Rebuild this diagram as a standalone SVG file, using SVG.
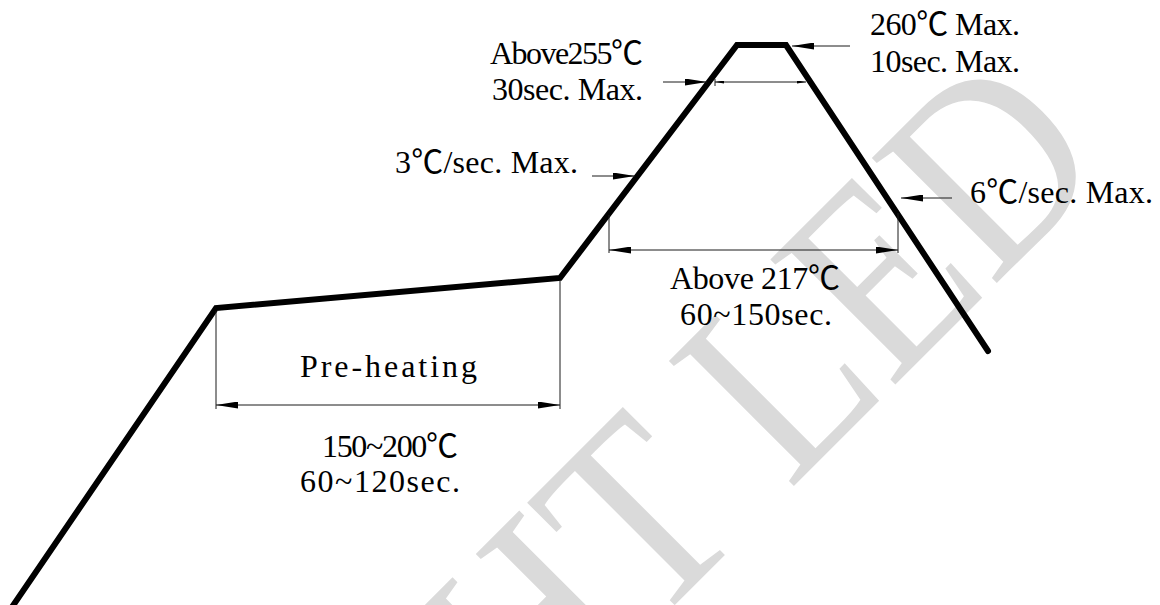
<svg xmlns="http://www.w3.org/2000/svg" width="1160" height="605" viewBox="0 0 1160 605">
<style>
  .lbl { font-family: "Liberation Serif", "Noto Sans CJK SC", serif; font-size: 32px; fill: #000; }
  .thin { stroke: #1a1a1a; stroke-width: 1; fill: none; }
  .curve { stroke: #000; stroke-width: 6; fill: none; stroke-linejoin: miter; stroke-linecap: round; }
  .wm { font-family: "Liberation Serif", serif; font-size: 270px; fill: #dadada; }
</style>
<defs>
  <marker id="ah" viewBox="0 0 22 7" refX="22" refY="3.5" markerWidth="22" markerHeight="7" markerUnits="userSpaceOnUse" orient="auto-start-reverse">
    <path d="M0,0 L22,3.5 L0,7 z" fill="#000"/>
  </marker>
  <marker id="ahs" viewBox="0 0 9 3" refX="9" refY="1.5" markerWidth="9" markerHeight="3" markerUnits="userSpaceOnUse" orient="auto-start-reverse">
    <path d="M0,0 L9,1.5 L0,3 z" fill="#000"/>
  </marker>
</defs>
<rect width="1160" height="605" fill="#fff"/>
<g id="watermark">
  <text class="wm" transform="rotate(-45) scale(0.87,1)" x="-180" y="905">HT LED</text>
</g>
<g id="profile">
  <polyline class="curve" points="10,610 216,308 560,278 737,45 786,45 988,351"/>
</g>
<g id="connectors">
  <line class="thin" x1="216" y1="311" x2="216" y2="409"/>
  <line class="thin" x1="560" y1="281" x2="560" y2="409"/>
  <line class="thin" x1="216" y1="405" x2="560" y2="405" marker-start="url(#ah)" marker-end="url(#ah)"/>
  <line class="thin" x1="609" y1="215" x2="609" y2="253"/>
  <line class="thin" x1="898" y1="213" x2="898" y2="253"/>
  <line class="thin" x1="609" y1="250" x2="898" y2="250" marker-start="url(#ah)" marker-end="url(#ah)"/>
  <line class="thin" x1="715" y1="79" x2="715" y2="86"/>
  <line class="thin" x1="715" y1="82" x2="806" y2="82" marker-start="url(#ahs)" marker-end="url(#ahs)"/>
  <line class="thin" x1="663" y1="82" x2="707" y2="82" marker-end="url(#ah)"/>
  <line class="thin" x1="592" y1="176" x2="635" y2="176" marker-end="url(#ah)"/>
  <line class="thin" x1="850" y1="46" x2="792" y2="46" marker-end="url(#ah)"/>
  <line class="thin" x1="952" y1="198" x2="901" y2="198" marker-end="url(#ah)"/>
</g>
<g id="label-peak255">
  <text class="lbl" x="490" y="64" textLength="153" lengthAdjust="spacing">Above255℃</text>
  <text class="lbl" x="492" y="100" textLength="151" lengthAdjust="spacing">30sec. Max.</text>
</g>
<g id="label-rampup">
  <text class="lbl" x="395" y="173" textLength="183" lengthAdjust="spacing">3℃/sec. Max.</text>
</g>
<g id="label-peak260">
  <text class="lbl" x="870" y="35" textLength="150" lengthAdjust="spacing">260℃ Max.</text>
  <text class="lbl" x="870" y="72" textLength="150" lengthAdjust="spacing">10sec. Max.</text>
</g>
<g id="label-rampdown">
  <text class="lbl" x="970" y="203" textLength="183" lengthAdjust="spacing">6℃/sec. Max.</text>
</g>
<g id="label-217">
  <text class="lbl" x="670" y="289" textLength="170" lengthAdjust="spacing">Above 217℃</text>
  <text class="lbl" x="680" y="325" textLength="152" lengthAdjust="spacing">60~150sec.</text>
</g>
<g id="label-preheat">
  <text class="lbl" x="300" y="377" textLength="177" lengthAdjust="spacing">Pre-heating</text>
  <text class="lbl" x="322" y="457" textLength="136" lengthAdjust="spacing">150~200℃</text>
  <text class="lbl" x="300" y="492" textLength="160" lengthAdjust="spacing">60~120sec.</text>
</g>
</svg>
